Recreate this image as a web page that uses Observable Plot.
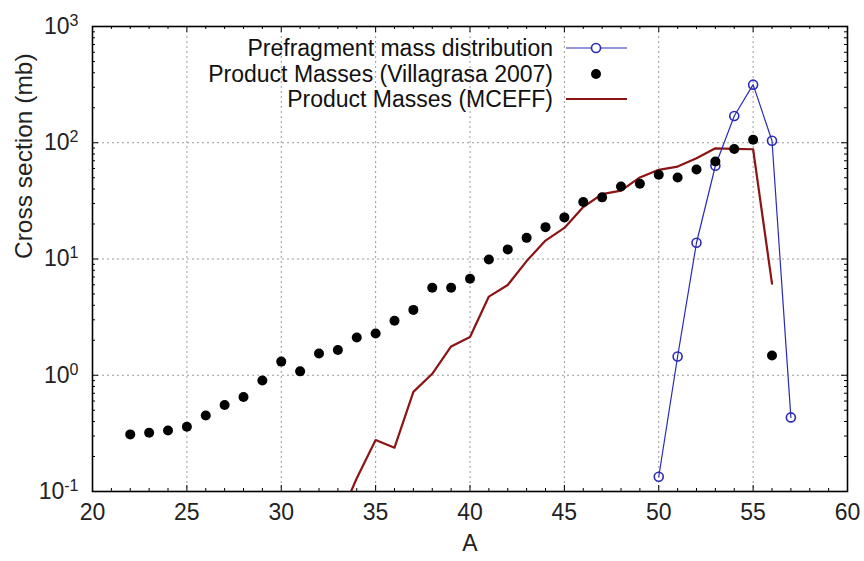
<!DOCTYPE html>
<html>
<head>
<meta charset="utf-8">
<script src="https://cdn.jsdelivr.net/npm/d3@7"></script>
<script src="https://cdn.jsdelivr.net/npm/@observablehq/plot@0.6"></script>
<style>
  html, body { margin: 0; padding: 0; background: #fff; }
  #wrap { position: relative; width: 864px; height: 561px; font-family: "Liberation Sans", Arial, sans-serif; }
  #legend { position: absolute; left: 0; top: 0; pointer-events: none; }
</style>
</head>
<body>
<div id="wrap"></div>
<script>
// ---- data ----
const villagrasaA = [22,23,24,25,26,27,28,29,30,31,32,33,34,35,36,37,38,39,40,41,42,43,44,45,46,47,48,49,50,51,52,53,54,55,56];
const villagrasaSigma = [0.31,0.32,0.335,0.36,0.45,0.555,0.65,0.90,1.31,1.08,1.54,1.65,2.11,2.29,2.94,3.65,5.66,5.66,6.76,9.9,12.1,15.2,18.8,22.8,30.9,33.9,42,44.4,53,50.2,58.9,68.9,88.5,106,1.48];

const prefragA = [50,51,52,53,54,55,56,57];
const prefragSigma = [0.134,1.45,13.8,63.4,170,316,104,0.434];

const mceffA = [32,33,34,35,36,37,38,39,40,41,42,43,44,45,46,47,48,49,50,51,52,53,54,55,56];
const mceffSigma = [0.02,0.055,0.13,0.277,0.238,0.72,1.03,1.77,2.13,4.75,5.98,9.6,14.4,18.5,28,36.2,38.7,50.3,58.5,62.4,73.5,89.6,88.5,87.9,6.13];

const xTicks = [20,25,30,35,40,45,50,55,60];
const yTicks = [0.1,1,10,100,1000];
const yTickExp = ["-1","0","1","2","3"];

const legendLabels = ["Prefragment mass distribution","Product Masses (Villagrasa 2007)","Product Masses (MCEFF)"];
const colors = { prefrag: "#2b2bb8", villagrasa: "#000000", mceff: "#8b1414" };

// ---- derived ----
const villagrasa = villagrasaA.map((a,i)=>({A:a, s:villagrasaSigma[i]}));
const prefrag = prefragA.map((a,i)=>({A:a, s:prefragSigma[i]}));
const mceff = mceffA.map((a,i)=>({A:a, s:mceffSigma[i]}));
const xMinor = d3.range(20, 61, 1).filter(v => v % 5 !== 0);
const yMinor = [];
for (let e = -1; e < 3; e++) for (let m = 2; m <= 9; m++) yMinor.push(m * Math.pow(10, e));

const W = 864, H = 561;
const mL = 92, mR = 17, mT = 26, mB = 70;
const fh = H - mT - mB, fw = W - mL - mR;
const major = 6, minor = 3;
const FS = 23;

const chart = Plot.plot({
  width: W, height: H,
  marginLeft: mL, marginRight: mR, marginTop: mT, marginBottom: mB,
  style: { fontFamily: "Liberation Sans, Arial, sans-serif", background: "#fff", overflow: "visible" },
  x: { type: "linear", domain: [20, 60], ticks: xTicks, label: null },
  y: { type: "log", domain: [0.1, 1000], ticks: yTicks, label: null },
  marks: [
    // grid
    Plot.ruleX(xTicks.slice(1, -1), { x: d => d, stroke: "#9a9a9a", strokeWidth: 1, strokeDasharray: "2,3" }),
    Plot.ruleY(yTicks.slice(1, -1), { y: d => d, stroke: "#9a9a9a", strokeWidth: 1, strokeDasharray: "2,3" }),
    // inward ticks bottom/top
    Plot.ruleX(xTicks, { x: d => d, insetTop: fh - major, stroke: "#000" }),
    Plot.ruleX(xTicks, { x: d => d, insetBottom: fh - major, stroke: "#000" }),
    Plot.ruleX(xMinor, { x: d => d, insetTop: fh - minor, stroke: "#000" }),
    Plot.ruleX(xMinor, { x: d => d, insetBottom: fh - minor, stroke: "#000" }),
    // inward ticks left/right
    Plot.ruleY(yTicks, { y: d => d, insetRight: fw - major, stroke: "#000" }),
    Plot.ruleY(yTicks, { y: d => d, insetLeft: fw - major, stroke: "#000" }),
    Plot.ruleY(yMinor, { y: d => d, insetRight: fw - minor, stroke: "#000" }),
    Plot.ruleY(yMinor, { y: d => d, insetLeft: fw - minor, stroke: "#000" }),
    // axes labels
    Plot.axisX({ ticks: xTicks, tickSize: 0, tickPadding: 12, fontSize: FS, tickFormat: d => String(d), label: null }),
    Plot.axisY({ ticks: yTicks, tickSize: 0, tickPadding: 14, fontSize: FS, tickFormat: (d,i) => "10", label: null }),
    Plot.text(["A"], { frameAnchor: "bottom", dy: 59, text: d => d, fontSize: 23, fill: "#222" }),
    Plot.text(["Cross section (mb)"], { frameAnchor: "left", dx: -68, rotate: -90, text: d => d, fontSize: 24.5, fill: "#222" }),
    // data
    Plot.line(mceff, { x: "A", y: "s", stroke: colors.mceff, strokeWidth: 2.2, clip: true }),
    Plot.line(prefrag, { x: "A", y: "s", stroke: colors.prefrag, strokeWidth: 1.2, clip: true }),
    Plot.dot(prefrag, { x: "A", y: "s", r: 4.5, stroke: colors.prefrag, strokeWidth: 1.6, fill: "#fff", fillOpacity: 0, clip: true }),
    Plot.dot(villagrasa, { x: "A", y: "s", r: 5, fill: colors.villagrasa, stroke: "none", clip: true }),
    Plot.frame({ stroke: "#000", strokeWidth: 1.6 })
  ]
});

document.getElementById("wrap").appendChild(chart);

d3.select(chart).selectAll('g[aria-label="y-axis tick label"], g[aria-label="x-axis tick label"]').attr("fill", "#222");
d3.select(chart).selectAll('g[aria-label="x-axis tick label"] text, g[aria-label="y-axis tick label"] text')
  .style("font-size", FS + "px");

// superscript exponents on y tick labels
const ylab = d3.select(chart).selectAll('g[aria-label="y-axis tick label"] text');
ylab.each(function(d, i) {
  const t = d3.select(this);
  const exp = yTickExp[yTicks.indexOf(d)] ?? yTickExp[i];
  t.text("10");
  t.append("tspan").attr("dy", "-0.5em").style("font-size", "16px").text(exp);
});

// legend overlay
const leg = d3.select("#wrap").append("svg").attr("id", "legend").attr("width", W).attr("height", H)
  .style("font-family", "Liberation Sans, Arial, sans-serif");
const rowsY = [48, 74, 99];
const textX = 553, s0 = 566, s1 = 627, sc = 596;
legendLabels.forEach((lab, i) => {
  leg.append("text").attr("x", textX).attr("y", rowsY[i]).attr("dy", "0.35em")
    .attr("text-anchor", "end").style("font-size", "23px").attr("fill", "#111").text(lab);
});
leg.append("line").attr("x1", s0).attr("x2", s1).attr("y1", rowsY[0]).attr("y2", rowsY[0]).attr("stroke", colors.prefrag).attr("stroke-width", 1.2);
leg.append("circle").attr("cx", sc).attr("cy", rowsY[0]).attr("r", 4.5).attr("fill", "#fff").attr("stroke", colors.prefrag).attr("stroke-width", 1.6);
leg.append("circle").attr("cx", sc).attr("cy", rowsY[1]).attr("r", 5).attr("fill", "#000");
leg.append("line").attr("x1", s0).attr("x2", s1).attr("y1", rowsY[2]).attr("y2", rowsY[2]).attr("stroke", colors.mceff).attr("stroke-width", 2.2);
</script>
</body>
</html>
